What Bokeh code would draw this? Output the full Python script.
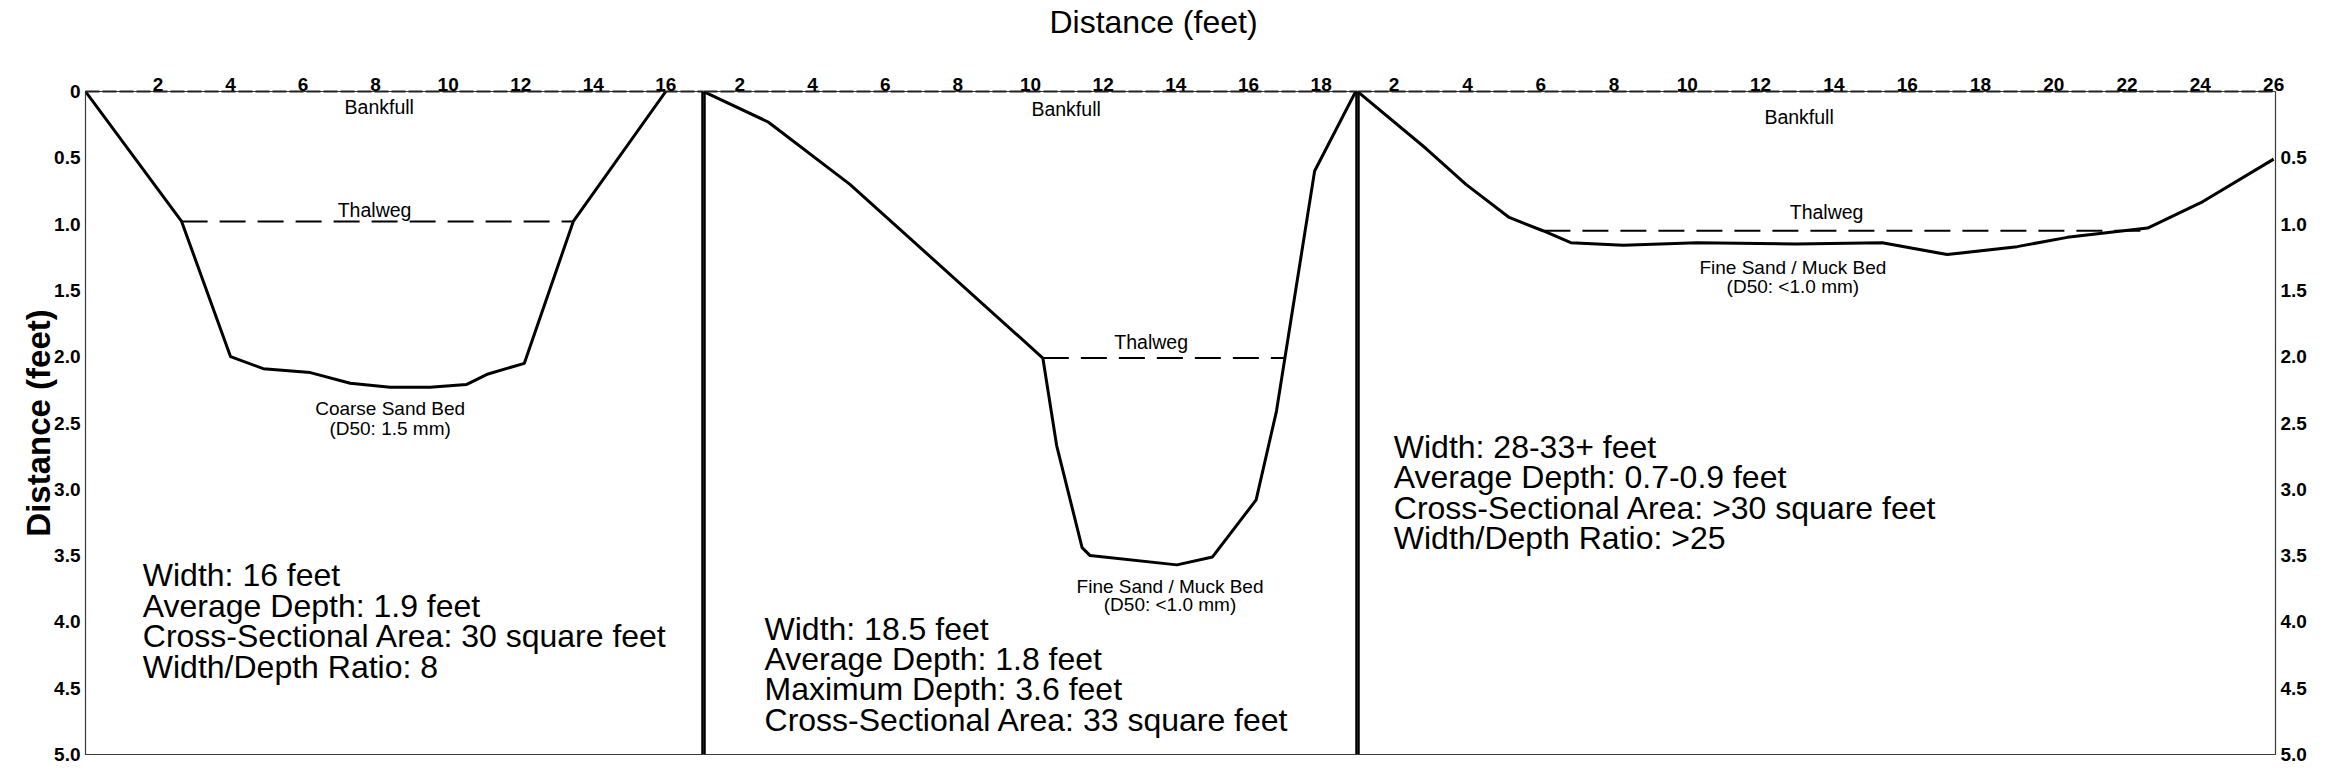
from bokeh.plotting import figure
from bokeh.layouts import row, column
from bokeh.models import Range1d, FixedTicker, PrintfTickFormatter, Span, ColumnDataSource
from bokeh.core.properties import value
from bokeh.embed import file_html
from bokeh.resources import INLINE

FONT = "Liberation Sans"

# ---------------- data ----------------
title_text = "Distance (feet)"
y_label_text = "Distance (feet)"

# depth ticks (feet)
y_ticks_left = [0, 0.5, 1.0, 1.5, 2.0, 2.5, 3.0, 3.5, 4.0, 4.5, 5.0]
y_ticks_right = [0.5, 1.0, 1.5, 2.0, 2.5, 3.0, 3.5, 4.0, 4.5, 5.0]

# distance ticks per panel
p1_xticks = [2, 4, 6, 8, 10, 12, 14, 16]
p2_xticks = [2, 4, 6, 8, 10, 12, 14, 16, 18]
p3_xticks = [2, 4, 6, 8, 10, 12, 14, 16, 18, 20, 22, 24, 26]

# Panel 1 cross-section
p1_x = [0, 2.65, 4.0, 4.9, 6.2, 7.3, 8.4, 9.5, 10.5, 11.1, 12.1, 13.45, 16.0]
p1_depth = [0, 0.98, 2.0, 2.09, 2.12, 2.2, 2.23, 2.23, 2.21, 2.13, 2.05, 0.98, 0]
p1_thalweg_x = [2.65, 13.45]
p1_thalweg_depth = [0.98, 0.98]

# Panel 2 cross-section
p2_x = [1.0, 2.78, 5.03, 10.34, 10.72, 11.42, 11.64, 14.03, 15.01, 16.21, 16.77, 17.82, 18.95]
p2_depth = [0, 0.23, 0.70, 2.01, 2.67, 3.44, 3.50, 3.57, 3.51, 3.08, 2.41, 0.60, 0]
p2_thalweg_x = [10.34, 16.98]
p2_thalweg_depth = [2.01, 2.01]

# Panel 3 cross-section
p3_x = [1.0, 2.87, 3.96, 5.14, 6.06, 6.82, 8.25, 10.27, 12.96, 15.32, 17.09, 19.0, 20.37, 22.56, 24.07, 26.0]
p3_depth = [0, 0.43, 0.70, 0.95, 1.05, 1.14, 1.16, 1.14, 1.15, 1.14, 1.23, 1.17, 1.10, 1.03, 0.83, 0.51]
p3_thalweg_x = [6.1, 22.6]
p3_thalweg_depth = [1.05, 1.05]

# annotation texts
bank_text = "Bankfull"
thal_text = "Thalweg"
p1_bed = ["Coarse Sand Bed", "(D50: 1.5 mm)"]
p2_bed = ["Fine Sand / Muck Bed", "(D50: <1.0 mm)"]
p3_bed = ["Fine Sand / Muck Bed", "(D50: <1.0 mm)"]

p1_stats = ["Width: 16 feet", "Average Depth: 1.9 feet",
            "Cross-Sectional Area: 30 square feet", "Width/Depth Ratio: 8"]
p2_stats = ["Width: 18.5 feet", "Average Depth: 1.8 feet",
            "Maximum Depth: 3.6 feet", "Cross-Sectional Area: 33 square feet"]
p3_stats = ["Width: 28-33+ feet", "Average Depth: 0.7-0.9 feet",
            "Cross-Sectional Area: >30 square feet", "Width/Depth Ratio: >25"]

# ---------------- layout / style ----------------
TOTAL_W = 2311
TITLE_H = 42
FRAME_H = 663
TOP = 49
BOTTOM = 11
LINE_STEP = 0.229   # stats line spacing in depth units
SMALL = "19.5px"
TICK_SIZE = "19px"


def make_fig(xr, frame_w, xticks, y_loc, bl, br):
    p = figure(frame_width=frame_w, frame_height=FRAME_H,
               x_range=Range1d(*xr), y_range=Range1d(5, 0),
               x_axis_location="above", y_axis_location=y_loc,
               toolbar_location=None, output_backend="svg",
               min_border=0, min_border_left=bl, min_border_right=br,
               min_border_top=TOP, min_border_bottom=BOTTOM,
               background_fill_color="white", border_fill_color="white")
    p.grid.visible = False
    p.outline_line_color = "#3a3a3a"
    p.outline_line_width = 1.2
    xa = p.xaxis[0]
    xa.ticker = FixedTicker(ticks=xticks)
    xa.major_tick_out = 0
    xa.major_tick_in = 0
    xa.minor_tick_out = 0
    xa.minor_tick_in = 0
    xa.axis_line_width = 2
    xa.axis_line_color = "#222222"
    xa.axis_line_dash = "14 3"
    xa.major_label_standoff = 1
    xa.major_label_text_font = FONT
    xa.major_label_text_font_size = TICK_SIZE
    xa.major_label_text_font_style = "bold"
    xa.major_label_text_color = "black"
    return p


def style_y(ax, ticks, overrides=None):
    ax.ticker = FixedTicker(ticks=ticks)
    ax.formatter = PrintfTickFormatter(format="%.1f")
    if overrides:
        ax.major_label_overrides = overrides
    ax.major_tick_out = 0
    ax.major_tick_in = 0
    ax.minor_tick_out = 0
    ax.minor_tick_in = 0
    ax.axis_line_color = None
    ax.major_label_standoff = 5
    ax.major_label_text_font = FONT
    ax.major_label_text_font_size = TICK_SIZE
    ax.major_label_text_font_style = "bold"
    ax.major_label_text_color = "black"


def add_profile(p, xs, ds, tx, td):
    p.line(xs, ds, line_width=3, color="black", line_join="round")
    p.line(tx, td, line_width=2, color="black", line_dash="26 12")


def add_texts(p, xs, ys, texts, size, align="center"):
    src = ColumnDataSource(dict(x=xs, y=ys, t=texts))
    p.text(x="x", y="y", text="t", source=src, text_font=value(FONT),
           text_font_size=size, text_align=align, text_baseline="middle",
           text_color="black")


def add_stats(p, x0, y0, lines):
    add_texts(p, [x0] * len(lines), [y0 + i * LINE_STEP for i in range(len(lines))],
              lines, "32px", align="left")


# Title strip (spans the whole chart)
strip = figure(width=TOTAL_W, height=TITLE_H, x_range=Range1d(0, TOTAL_W),
               y_range=Range1d(0, TITLE_H), toolbar_location=None,
               output_backend="svg", min_border=0, x_axis_location=None,
               y_axis_location=None, border_fill_color="white")
strip.grid.visible = False
strip.outline_line_color = None
strip.text(x=[1153], y=[TITLE_H / 2], text=[title_text], text_font=value(FONT),
           text_font_size="32px", text_align="center", text_baseline="middle",
           text_color="black")

# Panel 1
f1 = make_fig((0, 17.04), 618, p1_xticks, "left", 85, 0)
style_y(f1.yaxis[0], y_ticks_left, {0: "0"})
f1.yaxis[0].axis_label = y_label_text
f1.yaxis[0].axis_label_text_font = FONT
f1.yaxis[0].axis_label_text_font_size = "33px"
f1.yaxis[0].axis_label_text_font_style = "bold"
f1.yaxis[0].axis_label_standoff = -6
f1.yaxis[0].axis_label_text_color = "black"
add_profile(f1, p1_x, p1_depth, p1_thalweg_x, p1_thalweg_depth)
add_texts(f1, [8.1, 7.97], [0.12, 0.89], [bank_text, thal_text], SMALL)
add_texts(f1, [8.4, 8.4], [2.39, 2.54], p1_bed, "19px")
add_stats(f1, 1.58, 3.65, p1_stats)
f1.add_layout(Span(location=17.04, dimension="height", line_color="black", line_width=4.5))

# Panel 2
f2 = make_fig((1.0, 19.0), 654, p2_xticks, None, 0, 0)
add_profile(f2, p2_x, p2_depth, p2_thalweg_x, p2_thalweg_depth)
add_texts(f2, [10.98, 13.32], [0.134, 1.886], [bank_text, thal_text], SMALL)
add_texts(f2, [13.84, 13.84], [3.73, 3.87], p2_bed, "19px")
add_stats(f2, 2.68, 4.05, p2_stats)
f2.add_layout(Span(location=1.0, dimension="height", line_color="black", line_width=4.5))
f2.add_layout(Span(location=19.0, dimension="height", line_color="black", line_width=4.5))

# Panel 3
f3 = make_fig((1.0, 26.05), 918, p3_xticks, "right", 0, 36)
style_y(f3.yaxis[0], y_ticks_right)
add_profile(f3, p3_x, p3_depth, p3_thalweg_x, p3_thalweg_depth)
add_texts(f3, [13.05, 13.8], [0.19, 0.91], [bank_text, thal_text], SMALL)
add_texts(f3, [12.88, 12.88], [1.33, 1.47], p3_bed, "19px")
add_stats(f3, 1.99, 2.68, p3_stats)
f3.add_layout(Span(location=1.0, dimension="height", line_color="black", line_width=4.5))

layout = column(strip, row(f1, f2, f3, spacing=0), spacing=0)
open("out.html", "w").write(file_html(layout, INLINE))
